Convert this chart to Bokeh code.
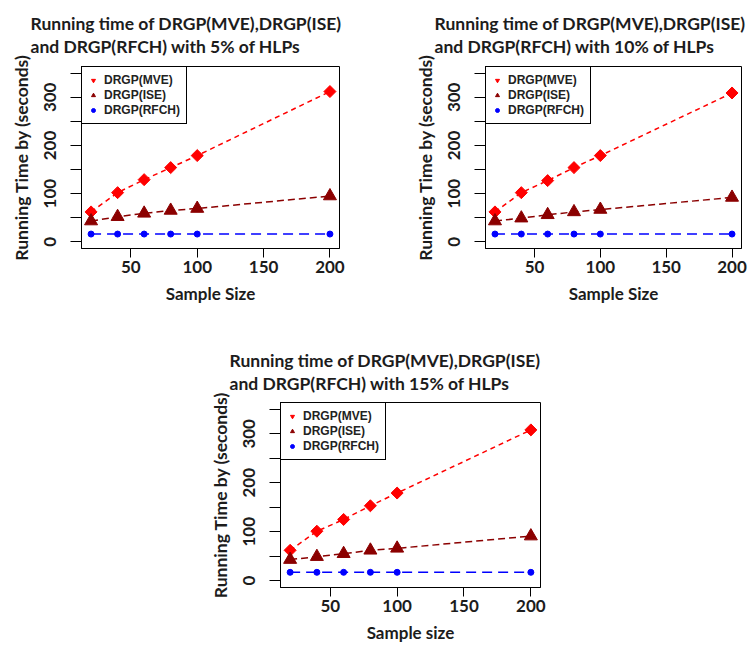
import math
from bokeh.plotting import figure
from bokeh.models import Range1d, FixedTicker, Title, Legend, LegendItem, Spacer
from bokeh.layouts import column, row
from bokeh.embed import file_html
from bokeh.resources import INLINE

# ---------------- data ----------------
sample_sizes = [20, 40, 60, 80, 100, 200]

p1_mve = [62, 102, 129, 154, 179, 312]
p1_ise = [43, 52, 59, 65, 69, 95]
p1_rfch = [16, 16, 16, 16, 16, 16]

p2_mve = [62, 102, 127, 154, 179, 309]
p2_ise = [43, 49, 56, 62, 67, 92]
p2_rfch = [16, 16, 16, 16, 16, 16]

p3_mve = [62, 101, 125, 153, 179, 308]
p3_ise = [43, 49, 55, 62, 66, 91]
p3_rfch = [17, 17, 17, 17, 17, 17]

x_ticks = [50, 100, 150, 200]
y_ticks = [0, 50, 100, 150, 200, 250, 300, 350]
y_tick_labels = {0: "0", 50: "", 100: "100", 150: "", 200: "200", 250: "", 300: "300", 350: ""}

series_names = ["DRGP(MVE)", "DRGP(ISE)", "DRGP(RFCH)"]

titles = [
    "Running time of DRGP(MVE),DRGP(ISE)\nand DRGP(RFCH) with 5% of HLPs",
    "Running time of DRGP(MVE),DRGP(ISE)\nand DRGP(RFCH) with 10% of HLPs",
    "Running time of DRGP(MVE),DRGP(ISE)\nand DRGP(RFCH) with 15% of HLPs",
]
x_labels = ["Sample Size", "Sample Size", "Sample size"]
y_label = "Running Time by (seconds)"

TXT = "#1c1c1c"
MVE_C = "#FF0000"
ISE_C = "#8B0000"
RFCH_C = "#0000FF"


def make_panel(title, xlabel, mve, ise, rfch, width, height, bl, br, bt, bb, t_standoff):
    p = figure(width=width, height=height, output_backend="svg", toolbar_location=None,
               title=None, x_range=Range1d(12.8, 207.2), y_range=Range1d(-14, 364),
               min_border_left=bl, min_border_right=br, min_border_top=bt, min_border_bottom=bb)
    p.xgrid.visible = False
    p.ygrid.visible = False
    p.outline_line_color = "black"
    p.outline_line_alpha = 1.0
    p.outline_line_width = 1
    p.background_fill_color = "white"
    p.border_fill_color = "white"

    p.add_layout(Title(text=title, align="left", offset=-51, standoff=t_standoff,
                       text_font="Lato", text_font_size="17.5px", text_font_style="bold",
                       text_line_height=1.1, text_color=TXT), "above")

    xa = p.xaxis[0]
    xa.ticker = FixedTicker(ticks=x_ticks)
    xa.axis_label = xlabel
    ya = p.yaxis[0]
    ya.ticker = FixedTicker(ticks=y_ticks)
    ya.major_label_overrides = y_tick_labels
    ya.axis_label = y_label
    ya.major_label_orientation = "vertical"
    for ax in (xa, ya):
        ax.axis_line_color = "black"
        ax.major_tick_line_color = "black"
        ax.major_tick_in = 0
        ax.minor_tick_in = 0
        ax.minor_tick_out = 0
        ax.major_label_text_font = "Lato"
        ax.major_label_text_font_size = "17px"
        ax.major_label_text_font_style = "bold"
        ax.major_label_text_color = TXT
        ax.axis_label_text_font = "Lato"
        ax.axis_label_text_font_style = "bold"
        ax.axis_label_text_color = TXT
    xa.axis_label_text_font_size = "17px"
    ya.axis_label_text_font_size = "17.5px"
    xa.major_tick_out = 9
    xa.major_label_standoff = 3
    xa.axis_label_standoff = 7
    ya.major_tick_out = 11
    ya.major_label_standoff = 14
    ya.axis_label_standoff = 10

    # lines
    p.line(sample_sizes, mve, line_color=MVE_C, line_width=1.5, line_dash="5 4")
    p.line(sample_sizes, ise, line_color=ISE_C, line_width=1.5, line_dash="7 4")
    p.line(sample_sizes, rfch, line_color=RFCH_C, line_width=1.5, line_dash="10 6")
    # markers
    p.scatter(sample_sizes, mve, marker="square", angle=math.pi / 4, size=8.5,
              fill_color=MVE_C, line_color=MVE_C)
    p.scatter(sample_sizes, ise, marker="triangle", size=13,
              fill_color=ISE_C, line_color=ISE_C)
    p.scatter(sample_sizes, rfch, marker="circle", size=6,
              fill_color=RFCH_C, line_color=RFCH_C)

    # legend-only renderers (kept outside the visible range)
    l1 = p.scatter(x=[-1000], y=[-1000], marker="inverted_triangle", size=5,
                   fill_color=MVE_C, line_color=MVE_C)
    l2 = p.scatter(x=[-1000], y=[-1000], marker="triangle", size=5,
                   fill_color=ISE_C, line_color=ISE_C)
    l3 = p.scatter(x=[-1000], y=[-1000], marker="circle", size=4,
                   fill_color=RFCH_C, line_color=RFCH_C)
    legend = Legend(items=[LegendItem(label=series_names[0], renderers=[l1]),
                           LegendItem(label=series_names[1], renderers=[l2]),
                           LegendItem(label=series_names[2], renderers=[l3])],
                    location="top_left", margin=0, padding=6, spacing=1,
                    label_height=14, glyph_height=14, glyph_width=10, label_standoff=6,
                    label_text_font="Liberation Sans", label_text_font_size="12px",
                    label_text_font_style="bold", label_text_color="#222222",
                    border_line_color="black", border_line_width=1, border_line_alpha=1.0,
                    background_fill_color="white", background_fill_alpha=1.0)
    p.add_layout(legend)
    return p


p1 = make_panel(titles[0], x_labels[0], p1_mve, p1_ise, p1_rfch,
                width=404, height=336, bl=81, br=65, bt=66, bb=88, t_standoff=18)
p2 = make_panel(titles[1], x_labels[1], p2_mve, p2_ise, p2_rfch,
                width=344, height=336, bl=81, br=7, bt=66, bb=88, t_standoff=18)
p3 = make_panel(titles[2], x_labels[2], p3_mve, p3_ise, p3_rfch,
                width=381, height=310, bl=81, br=40, bt=66, bb=59, t_standoff=16)

layout = column(row(p1, p2), row(Spacer(width=199, height=310), p3))

open("out.html", "w").write(file_html(layout, INLINE))
